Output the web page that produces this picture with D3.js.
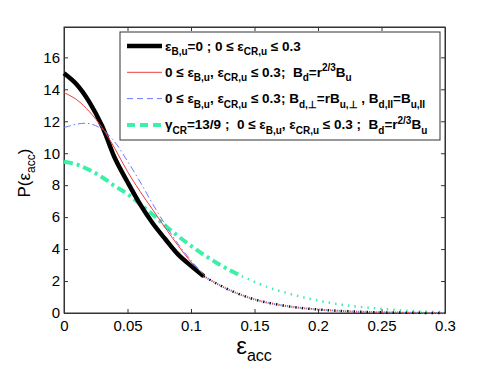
<!DOCTYPE html>
<html>
<head>
<meta charset="utf-8">
<script src="https://cdn.jsdelivr.net/npm/d3@7"></script>
<style>
  body { margin: 0; background: #fff; }
  svg { font-family: "Liberation Sans", Arial, sans-serif; }
</style>
</head>
<body>
<div id="chart"></div>
<script>
// data
var epsSolid = [0, 0.01, 0.02, 0.03, 0.04, 0.05, 0.06, 0.07, 0.08, 0.09, 0.1, 0.11];
var pBlack = [15.0, 14.3, 13.2, 11.7, 9.7, 8.2, 6.8, 5.6, 4.6, 3.65, 2.95, 2.3];
var pRed   = [13.8, 13.35, 12.6, 11.6, 10.3, 8.85, 7.6, 6.45, 5.3, 4.2, 3.2, 2.4];
var pBlue  = [11.6, 11.82, 11.85, 11.5, 10.7, 9.5, 8.2, 6.8, 5.5, 4.3, 3.3, 2.4];

var epsGreen = [0, 0.01, 0.02, 0.03, 0.04, 0.05, 0.06, 0.07, 0.08, 0.09, 0.1, 0.11, 0.12, 0.13, 0.14];
var pGreen   = [9.47, 9.3, 8.95, 8.5, 7.95, 7.45, 6.8, 6.15, 5.45, 4.8, 4.2, 3.65, 3.15, 2.7, 2.3];

var epsTail = [0.11, 0.12, 0.13, 0.14, 0.15, 0.16, 0.18, 0.2, 0.22, 0.24, 0.26, 0.28, 0.3];
var pTail   = [2.3, 1.85, 1.45, 1.12, 0.85, 0.65, 0.38, 0.22, 0.12, 0.06, 0.03, 0.01, 0.0];

var epsGreenTail = [0.14, 0.16, 0.18, 0.2, 0.22, 0.24, 0.26, 0.28, 0.3];
var pGreenTail   = [2.3, 1.63, 1.15, 0.78, 0.5, 0.33, 0.2, 0.1, 0.05];

var xTicks = [0, 0.05, 0.1, 0.15, 0.2, 0.25, 0.3];
var yTicks = [0, 2, 4, 6, 8, 10, 12, 14, 16];

var width = 491, height = 369;
var plotL = 64, plotR = 445, plotT = 27, plotB = 313;

var svg = d3.select('#chart')
    .append('svg')
    .attr('width', width)
    .attr('height', height);

var x = d3.scaleLinear().domain([0, 0.3]).range([plotL, plotR]);
var y = d3.scaleLinear().domain([0, 17.9]).range([plotB, plotT]);

var line = d3.line()
    .x(function(d) { return x(d[0]); })
    .y(function(d) { return y(d[1]); })
    .curve(d3.curveCatmullRom);

function pairs(xs, ys) { return xs.map(function(v, i) { return [v, ys[i]]; }); }

// box + axes (ticks inside, matlab style)
svg.append('rect')
    .attr('x', plotL).attr('y', plotT)
    .attr('width', plotR - plotL).attr('height', plotB - plotT)
    .attr('fill', 'none').attr('stroke', '#333').attr('stroke-width', 1);

var xaxis = d3.axisBottom(x).tickValues(xTicks).tickSizeInner(-4).tickSizeOuter(0).tickPadding(7)
    .tickFormat(function(d) { return d3.format('')(d); });
var yaxis = d3.axisLeft(y).tickValues(yTicks).tickSizeInner(-4).tickSizeOuter(0).tickPadding(4);

svg.append('g').attr('transform', 'translate(0,' + plotB + ')').call(xaxis);
svg.append('g').attr('transform', 'translate(' + plotL + ',0)').call(yaxis);
svg.append('g').attr('transform', 'translate(0,' + plotT + ')')
    .call(d3.axisTop(x).tickValues(xTicks).tickSizeInner(-4).tickSizeOuter(0).tickFormat(''));
svg.append('g').attr('transform', 'translate(' + plotR + ',0)')
    .call(d3.axisRight(y).tickValues(yTicks).tickSizeInner(-4).tickSizeOuter(0).tickFormat(''));

svg.selectAll('.domain').attr('stroke', '#333');
svg.selectAll('.tick line').attr('stroke', '#333');
svg.selectAll('.tick text').attr('font-size', 15).attr('fill', '#000')
    .style('font-family', '"Liberation Sans", Arial, sans-serif');

// curves
var plot = svg.append('g');

plot.append('path').attr('d', line(pairs(epsGreenTail, pGreenTail)))
    .attr('fill', 'none').attr('stroke', '#3cf0a8').attr('stroke-width', 2.5)
    .attr('stroke-dasharray', '1.5,5');
plot.append('path').attr('d', line(pairs(epsTail, pTail)))
    .attr('fill', 'none').attr('stroke', '#6a7cff').attr('stroke-width', 2)
    .attr('stroke-dasharray', '1.2,5.3').attr('stroke-dashoffset', 2);
plot.append('path').attr('d', line(pairs(epsTail, pTail)))
    .attr('fill', 'none').attr('stroke', '#f03c3c').attr('stroke-width', 2)
    .attr('stroke-dasharray', '1.2,5.3').attr('stroke-dashoffset', 4);
plot.append('path').attr('d', line(pairs(epsTail, pTail)))
    .attr('fill', 'none').attr('stroke', '#111').attr('stroke-width', 2.5)
    .attr('stroke-dasharray', '1.5,5');

plot.append('path').attr('d', line(pairs(epsGreen, pGreen)))
    .attr('fill', 'none').attr('stroke', '#3cf0a8').attr('stroke-width', 4)
    .attr('stroke-dasharray', '9,4,3,4');
plot.append('path').attr('d', line(pairs(epsSolid, pBlack)))
    .attr('fill', 'none').attr('stroke', '#000').attr('stroke-width', 4.5);
plot.append('path').attr('d', line(pairs(epsSolid, pRed)))
    .attr('fill', 'none').attr('stroke', '#f03c3c').attr('stroke-width', 1);
plot.append('path').attr('d', line(pairs(epsSolid, pBlue)))
    .attr('fill', 'none').attr('stroke', '#6a7cff').attr('stroke-width', 1)
    .attr('stroke-dasharray', '7,3,1.5,3');

// axis labels
var ylab = svg.append('text')
    .attr('transform', 'translate(30,173) rotate(-90)')
    .attr('text-anchor', 'middle').attr('font-size', 17);
ylab.append('tspan').text('P(ε');
ylab.append('tspan').attr('font-size', 12).attr('dy', 5).text('acc');
ylab.append('tspan').attr('dy', -5).text(')');

var xlab = svg.append('text')
    .attr('x', 254).attr('y', 354)
    .attr('text-anchor', 'middle').attr('font-size', 24);
xlab.append('tspan').text('ε');
xlab.append('tspan').attr('font-size', 16).attr('dy', 7).text('acc');

// legend
var legendRows = [
    [["ε"], ["B,u", "sub"], ["=0 ; 0 ≤ ε"], ["CR,u", "sub"], [" ≤ 0.3"]],
    [["0 ≤ ε"], ["B,u", "sub"], [", ε"], ["CR,u", "sub"], [" ≤ 0.3;  B"], ["d", "sub"], ["=r"], ["2/3", "sup"], ["B"], ["u", "sub"]],
    [["0 ≤ ε"], ["B,u", "sub"], [", ε"], ["CR,u", "sub"], [" ≤ 0.3; B"], ["d,⊥", "sub"], ["=rB"], ["u,⊥", "sub"], [" , B"], ["d,II", "sub"], ["=B"], ["u,II", "sub"]],
    [["γ"], ["CR", "sub"], ["=13/9 ;  0 ≤ ε"], ["B,u", "sub"], [", ε"], ["CR,u", "sub"], [" ≤ 0.3 ;  B"], ["d", "sub"], ["=r"], ["2/3", "sup"], ["B"], ["u", "sub"]]
];
var legendStyles = [
    { color: '#000', w: 4.5, dash: null },
    { color: '#f03c3c', w: 1, dash: null },
    { color: '#6a7cff', w: 1, dash: '6,4' },
    { color: '#3cf0a8', w: 4, dash: '8,5' }
];

var lg = svg.append('g');
lg.append('rect')
    .attr('x', 120).attr('y', 32).attr('width', 320).attr('height', 108)
    .attr('fill', '#fff').attr('stroke', '#333').attr('stroke-width', 1);

legendRows.forEach(function(row, i) {
    var yy = 46 + i * 26.3;
    var st = legendStyles[i];
    lg.append('line')
        .attr('x1', 127).attr('x2', 162).attr('y1', yy).attr('y2', yy)
        .attr('stroke', st.color).attr('stroke-width', st.w)
        .attr('stroke-dasharray', st.dash);
    var t = lg.append('text')
        .attr('x', 165).attr('y', yy + 4.5)
        .attr('font-size', 13.5).attr('font-weight', 'bold')
        .style('white-space', 'pre');
    var shift = 0;
    row.forEach(function(seg) {
        var s = seg[1] === 'sub' ? 4.5 : (seg[1] === 'sup' ? -5.5 : 0);
        var ts = t.append('tspan').attr('dy', s - shift).text(seg[0]);
        if (seg[1]) ts.attr('font-size', 10);
        shift = s;
    });
});
</script>
</body>
</html>
